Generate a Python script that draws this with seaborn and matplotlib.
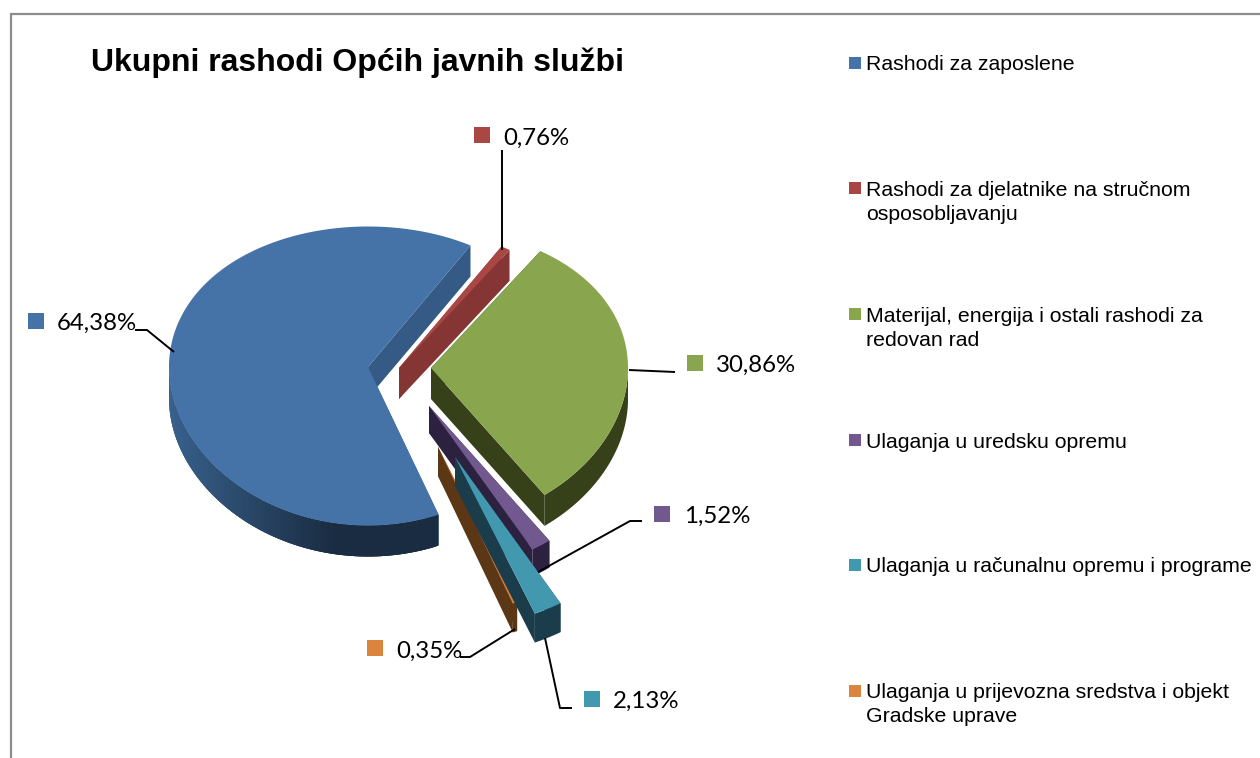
import matplotlib
matplotlib.use("Agg")
import matplotlib.pyplot as plt
import numpy as np
import pandas as pd
import seaborn as sns
from matplotlib.colors import to_rgb
from matplotlib.patches import Polygon

title = "Ukupni rashodi Općih javnih službi"
categories = [
    "Rashodi za zaposlene",
    "Rashodi za djelatnike na stručnom\nosposobljavanju",
    "Materijal, energija i ostali rashodi za\nredovan rad",
    "Ulaganja u uredsku opremu",
    "Ulaganja u računalnu opremu i programe",
    "Ulaganja u prijevozna sredstva i objekt\nGradske uprave",
]
shares = [64.38, 0.76, 30.86, 1.52, 2.13, 0.35]

top_colors = ["#4572a7", "#aa4643", "#89a54e", "#71588f", "#4198af", "#db843d"]
wall_colors = ["#345a85", "#853634", "#364019", "#2c2240", "#1a3c4b", "#5c3716"]

# layout in reference pixels, one entry per slice
apex = [(368, 367), (399, 368), (431, 368), (429, 406), (455, 457), (438, 447)]
radius_scale = [1.0, 1.0, 0.99, 1.05, 1.07, 1.06]
depth = [31, 31, 31, 27, 29, 29]
draw_order = [0, 1, 2, 3, 5, 4]
RX, RY_MID, RY_SKEW = 199, 149.5, 9
FIRST_EDGE = 59.0  # where the first slice ends, going clockwise

label_marker_pos = [(36, 321), (482, 135), (695, 363), (662, 514), (592, 699), (375, 648)]
label_text_pos = [(57, 323.5), (503, 138.5), (716, 365.5), (684, 516.5), (613, 701.5), (396, 651.5)]
leaders = [
    [(174, 352), (147, 330), (135, 330)],
    [(502, 250), (502, 150)],
    [(629, 370), (675, 372)],
    [(538, 572), (630, 521), (642, 521)],
    [(545, 638), (560, 708), (572, 708)],
    [(515, 629), (470, 657), (460, 657)],
]
legend_marker_x = 855
legend_mark_y = [63, 188, 314, 440, 565, 691]
legend_text_x = 866
legend_y = [65, 202.5, 328.5, 442, 567, 704.5]


def rim(center, theta_deg, scale=1.0, drop=0):
    t = np.radians(theta_deg)
    ry = RY_MID - RY_SKEW * np.sin(t)
    x = center[0] + scale * RX * np.cos(t)
    y = center[1] - scale * ry * np.sin(t) + drop
    return np.column_stack([np.atleast_1d(x), np.atleast_1d(y)])


def draw_slice(ax, i, start, end):
    # start > end, angles run clockwise
    c, s, d = apex[i], radius_scale[i], depth[i]
    thetas = np.linspace(start, end, max(int(start - end) * 2, 6))
    top = rim(c, thetas, s)
    bottom = rim(c, thetas, s, d)
    c_low = (c[0], c[1] + d)

    # the two cut faces
    for edge in (0, -1):
        pts = [c, top[edge], bottom[edge], c_low]
        ax.add_patch(Polygon(pts, closed=True, fc=wall_colors[i], ec="none"))

    # outer wall, only the part turned to the viewer
    idx = np.where(np.sin(np.radians(thetas)) < 0.02)[0]
    if i == 0:
        # blue wall gets darker to the right, quads overlap to hide seams
        light, dark = np.array(to_rgb("#38618c")), np.array(to_rgb("#1a2c42"))
        for a, b in zip(idx[:-1], idx[1:]):
            f = min((np.cos(np.radians(thetas[a])) + 1) / 0.83, 1)
            b2 = min(b + 2, idx[-1])
            pts = [top[a], top[b2], bottom[b2], bottom[a]]
            ax.add_patch(Polygon(pts, closed=True, fc=light * (1 - f) + dark * f, ec="none"))
    elif len(idx) > 1:
        pts = np.vstack([top[idx], bottom[idx][::-1]])
        ax.add_patch(Polygon(pts, closed=True, fc=wall_colors[i], ec="none"))

    ax.add_patch(Polygon(np.vstack([[c], top]), closed=True, fc=top_colors[i], ec="none"))


def main():
    sns.set_theme(style="white")
    plt.rcParams["font.family"] = ["Liberation Sans", "DejaVu Sans"]

    fig = plt.figure(figsize=(12.6, 7.58), dpi=100)
    ax = fig.add_axes([0, 0, 1, 1])
    ax.set_xlim(0, 1260)
    ax.set_ylim(758, 0)
    ax.axis("off")

    # outer chart frame
    ax.plot([10.5, 10.5, 1260], [758, 13.5, 13.5], color="#8c8c8c", lw=1.6, solid_joinstyle="miter")

    # slice angles come from the shares, clockwise from the first edge
    spans = np.array(shares) / sum(shares) * 360
    angles = {0: (FIRST_EDGE + spans[0], FIRST_EDGE)}
    cur = FIRST_EDGE
    for i in range(1, len(shares)):
        angles[i] = (cur, cur - spans[i])
        cur -= spans[i]

    for i in draw_order:
        draw_slice(ax, i, *angles[i])

    for pts in leaders:
        xs, ys = zip(*pts)
        ax.plot(xs, ys, color="black", lw=1.4, solid_capstyle="butt")

    df = pd.DataFrame({
        "category": categories,
        "x": [p[0] for p in label_marker_pos],
        "y": [p[1] for p in label_marker_pos],
        "my": legend_mark_y,
    })
    df["lx"] = legend_marker_x
    palette = dict(zip(categories, top_colors))
    sns.scatterplot(data=df, x="x", y="y", hue="category", palette=palette, marker="s",
                    s=117, linewidth=0, legend=False, ax=ax)
    sns.scatterplot(data=df, x="lx", y="my", hue="category", palette=palette, marker="s",
                    s=63, linewidth=0, legend=False, ax=ax)

    for v, (x, y) in zip(shares, label_text_pos):
        ax.text(x, y, f"{v:.2f}%".replace(".", ","), fontsize=17.3, family=["Lato", "DejaVu Sans"],
                va="center", ha="left", color="black")

    for name, y in zip(categories, legend_y):
        ax.text(legend_text_x, y, name, fontsize=15.27, va="center", ha="left", color="black",
                linespacing=1.4)

    ax.text(91, 63, title, fontsize=23.0, fontweight="bold", va="center", ha="left", color="black")

    fig.savefig("out.png", dpi=100)


if __name__ == "__main__":
    main()
